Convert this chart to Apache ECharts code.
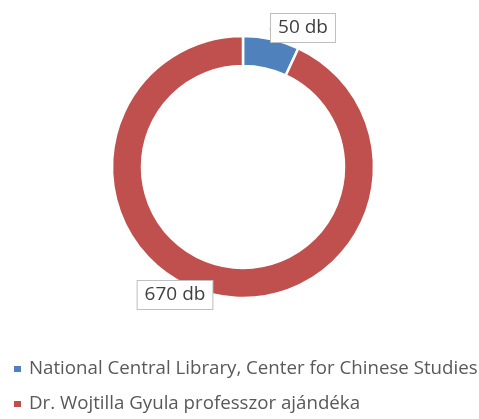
<!DOCTYPE html>
<html>
<head>
<meta charset="utf-8">
<script src="https://cdn.jsdelivr.net/npm/echarts@6/dist/echarts.min.js"></script>
<style>html,body{margin:0;padding:0;background:#fff;}#c{width:479px;height:419px;}</style>
</head>
<body>
<div id="c"></div>
<script>
const categories = ['National Central Library, Center for Chinese Studies', 'Dr. Wojtilla Gyula professzor ajándéka'];
const values = [50, 670];
const unit = ' db';
const colors = ['#4F81BD', '#C0504D'];

const chart = echarts.init(document.getElementById('c'));
const labelPos = [[303, 28], [175, 295]];
chart.setOption({
  animation: false,
  color: colors,
  legend: {
    orient: 'vertical',
    left: 12,
    top: 359,
    padding: 0,
    itemWidth: 9,
    itemHeight: 8,
    itemGap: 15,
    icon: 'rect',
    textStyle: { fontFamily: 'Open Sans', fontSize: 18.7, lineHeight: 20, color: '#595959', padding: [0, 0, 0, 2] },
    data: categories
  },
  series: [{
    type: 'pie',
    center: [243, 167],
    radius: [101, 131],
    startAngle: 90,
    clockwise: true,
    avoidLabelOverlap: false,
    itemStyle: { borderColor: '#fff', borderWidth: 2.5 },
    label: {
      show: true,
      position: 'outside',
      formatter: p => p.value + unit,
      fontFamily: 'Open Sans',
      fontSize: 19,
      color: '#404040',
      backgroundColor: '#fff',
      borderColor: '#bfbfbf',
      borderWidth: 1,
      padding: [5, 7, 4, 7],
      align: 'center',
      verticalAlign: 'middle'
    },
    labelLine: { show: true, length: 5, length2: 5, lineStyle: { color: '#bfbfbf', width: 1 } },
    labelLayout: function (p) {
      return { x: labelPos[p.dataIndex][0], y: labelPos[p.dataIndex][1], align: 'center', verticalAlign: 'middle' };
    },
    data: categories.map((n, i) => ({
      name: n,
      value: values[i],
      labelLine: { show: i === 0 }
    }))
  }]
});
</script>
</body>
</html>
